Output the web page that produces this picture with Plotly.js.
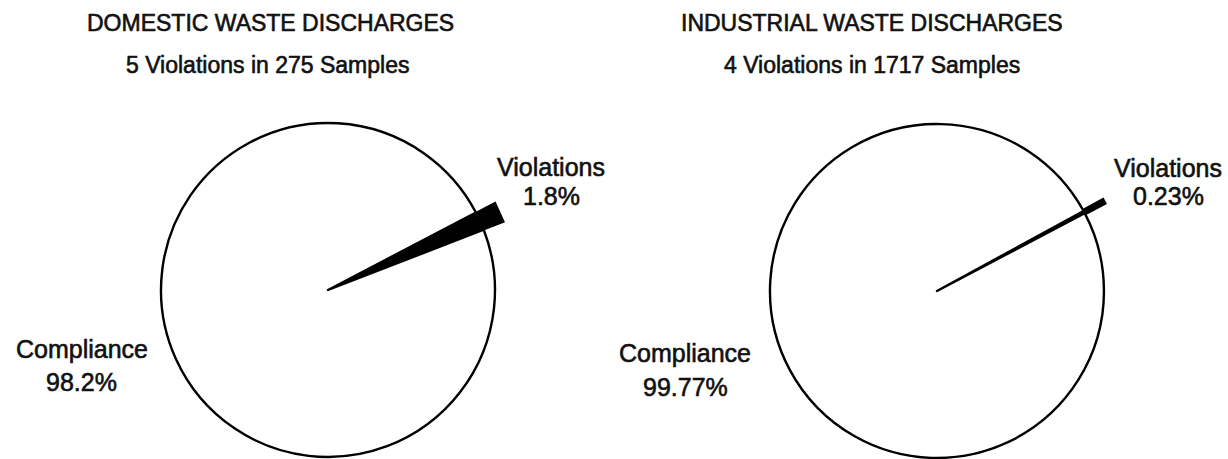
<!DOCTYPE html>
<html>
<head>
<meta charset="utf-8">
<script src="https://cdn.plot.ly/plotly-3.0.1.min.js"></script>
<style>
  html, body { margin: 0; padding: 0; background: #fff; }
  #chart { width: 1228px; height: 459px; }
  #chart .annotation-text { stroke: #111; stroke-width: 0.6px; }
</style>
</head>
<body>
<div id="chart"></div>
<script>
// ---- data ----
const chartTitles = ['DOMESTIC WASTE DISCHARGES', 'INDUSTRIAL WASTE DISCHARGES'];
const subtitles = ['5 Violations in 275 Samples', '4 Violations in 1717 Samples'];
const categories = ['Violations', 'Compliance'];
const domesticPct = [1.8, 98.2];
const industrialPct = [0.23, 99.77];

// ---- styling / placement ----
const W = 1228, H = 459;
const FONT = '"Liberation Sans", Arial, Helvetica, sans-serif';
const panels = [
  { pct: domesticPct, xd: [0.1311, 0.4031], yd: [0.0044, 0.7320], rot: 62.36, ext: 1.13,
    wedgeLine: 1.5, sliceLine: [1.5, 2.4],
    titleX: 0.2199, subX: 0.2182,
    vLab: { x: 0.4487, y1: 0.6362, y2: 0.5730 }, cLab: { x: 0.0664, y1: 0.2397, y2: 0.1678 } },
  { pct: industrialPct, xd: [0.6270, 0.8990], yd: [0.0022, 0.7298], rot: 61.39, ext: 1.13,
    wedgeLine: 4.5, sliceLine: [3, 2.4],
    titleX: 0.7101, subX: 0.7101,
    vLab: { x: 0.9512, y1: 0.6340, y2: 0.5730 }, cLab: { x: 0.5582, y1: 0.2309, y2: 0.1569 } }
];

const traces = [];
const annotations = [];
const layout = {
  width: W, height: H,
  margin: { l: 0, r: 0, t: 0, b: 0 },
  paper_bgcolor: '#fff', plot_bgcolor: 'rgba(0,0,0,0)',
  showlegend: false,
  font: { family: FONT, color: '#000' },
  annotations: annotations
};

panels.forEach((p, i) => {
  // main pie: white compliance, black violations
  traces.push({
    type: 'pie',
    labels: categories,
    values: p.pct,
    sort: false,
    direction: 'clockwise',
    rotation: p.rot,
    domain: { x: p.xd, y: p.yd },
    marker: { colors: ['#000', '#fff'], line: { color: ['#000', '#000'], width: p.sliceLine } },
    textinfo: 'none',
    hoverinfo: 'label+percent',
    showlegend: false
  });

  // violation wedge reaching past the circle: hidden cartesian axes whose unit = pie radius,
  // origin = pie centre (derived from the pie domain above)
  const cx = W * (p.xd[0] + p.xd[1]) / 2;
  const cy = H * (p.yd[0] + p.yd[1]) / 2;
  const R = Math.min(W * (p.xd[1] - p.xd[0]), H * (p.yd[1] - p.yd[0])) / 2;
  const axDomX = [i * 0.5, (i + 1) * 0.5];
  const xa = i === 0 ? 'xaxis' : 'xaxis2';
  const ya = i === 0 ? 'yaxis' : 'yaxis2';
  layout[xa] = { domain: axDomX, range: [(axDomX[0] * W - cx) / R, (axDomX[1] * W - cx) / R],
    visible: false, showgrid: false, zeroline: false, fixedrange: true };
  layout[ya] = { domain: [0, 1], range: [(0 - cy) / R, (H - cy) / R],
    visible: false, showgrid: false, zeroline: false, fixedrange: true };
  if (i === 1) { layout[ya].anchor = 'x2'; layout[xa].anchor = 'y2'; }

  const total = p.pct.reduce((a, b) => a + b, 0);
  const span = 360 * p.pct[0] / total;
  const upper = (90 - p.rot) * Math.PI / 180;
  const lower = upper - span * Math.PI / 180;
  traces.push({
    type: 'scatter',
    xaxis: i === 0 ? 'x' : 'x2',
    yaxis: i === 0 ? 'y' : 'y2',
    x: [0, p.ext * Math.cos(upper), p.ext * Math.cos(lower), 0],
    y: [0, p.ext * Math.sin(upper), p.ext * Math.sin(lower), 0],
    mode: 'lines',
    fill: 'toself',
    fillcolor: '#000',
    line: { color: '#000', width: p.wedgeLine, shape: 'linear' },
    hoverinfo: 'skip',
    showlegend: false
  });

  // titles
  annotations.push({ text: chartTitles[i], x: p.titleX, y: 0.950, xref: 'paper', yref: 'paper',
    xanchor: 'center', yanchor: 'middle', showarrow: false, font: { size: 23, family: FONT, color: '#111' } });
  annotations.push({ text: subtitles[i], x: p.subX, y: 0.858, xref: 'paper', yref: 'paper',
    xanchor: 'center', yanchor: 'middle', showarrow: false,
    font: { size: 23, family: FONT, color: '#111' } });

  // slice labels
  const lf = { size: 25, family: FONT, color: '#111' };
  annotations.push({ text: categories[0], x: p.vLab.x, y: p.vLab.y1, xref: 'paper', yref: 'paper',
    xanchor: 'center', yanchor: 'middle', showarrow: false, font: lf });
  annotations.push({ text: p.pct[0] + '%', x: p.vLab.x, y: p.vLab.y2, xref: 'paper', yref: 'paper',
    xanchor: 'center', yanchor: 'middle', showarrow: false, font: lf });
  annotations.push({ text: categories[1], x: p.cLab.x, y: p.cLab.y1, xref: 'paper', yref: 'paper',
    xanchor: 'center', yanchor: 'middle', showarrow: false, font: lf });
  annotations.push({ text: p.pct[1] + '%', x: p.cLab.x, y: p.cLab.y2, xref: 'paper', yref: 'paper',
    xanchor: 'center', yanchor: 'middle', showarrow: false, font: lf });
});

Plotly.newPlot('chart', traces, layout, { displayModeBar: false, staticPlot: true });
</script>
</body>
</html>
